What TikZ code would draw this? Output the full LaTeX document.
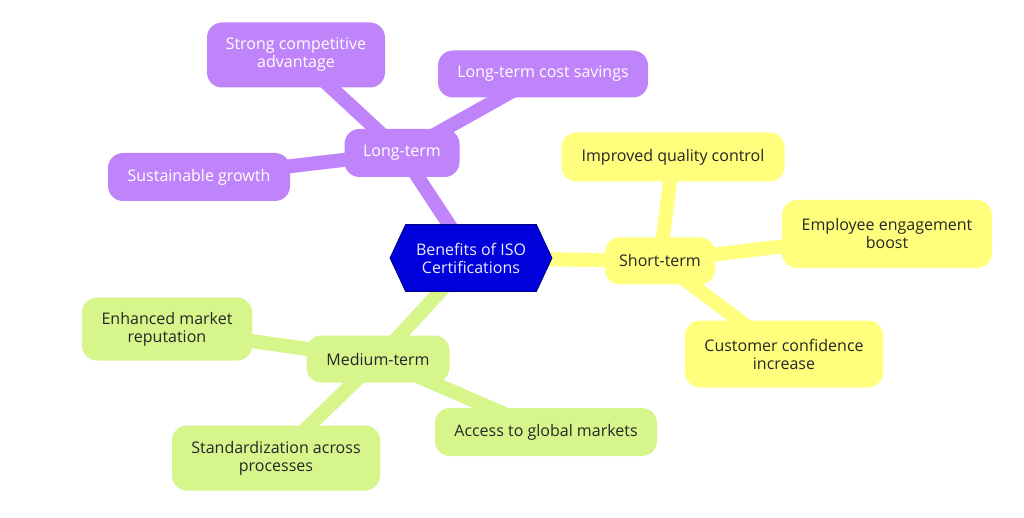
\documentclass[tikz,border=0pt]{standalone}
\usepackage{fontspec}
\setmainfont{Open Sans}
\usetikzlibrary{shapes.symbols,backgrounds}
\definecolor{lilac}{RGB}{192,132,250}
\definecolor{lemon}{RGB}{255,255,125}
\definecolor{lime}{RGB}{214,246,140}
\definecolor{royal}{RGB}{0,0,218}
\tikzset{
box/.style={rounded corners=15pt, inner sep=0pt, align=center, minimum height=48pt,
  font=\fontsize{16}{18}\selectfont},
longbox/.style={box, fill=lilac, text=white},
shortbox/.style={box, fill=lemon, text=black!85},
medbox/.style={box, fill=lime, text=black!85},
link/.style={line width=14pt}
}
\tikzset{every picture/.style={line width=0.75pt}}

\begin{document}
\begin{tikzpicture}[x=1pt,y=-1pt]
\useasboundingbox (0,0) rectangle (1024,518);

%Root: hexagon
\node (root) at (471,258) [signal, signal to=west and east, signal pointer angle=130,
  minimum width=162pt, minimum height=67pt, inner sep=0pt, fill=royal, draw=royal!60!black,
  text=blue!8, align=center, font=\fontsize{16}{18}\selectfont] {Benefits of ISO\\Certifications};

%Long-term branch
\node (long) at (402,153) [longbox, minimum width=115pt] {Long-term};
\node (compet) at (296,55) [longbox, minimum width=178pt, minimum height=65pt] {Strong competitive\\advantage};
\node (costs) at (543,74) [longbox, minimum width=210pt, minimum height=47pt] {Long-term cost savings};
\node (growth) at (199,177) [longbox, minimum width=182pt] {Sustainable growth};

%Short-term branch
\node (short) at (660,261) [shortbox, minimum width=110pt, minimum height=47pt] {Short-term};
\node (quality) at (673,157) [shortbox, minimum width=223pt, minimum height=49pt] {Improved quality control};
\node (staff) at (887,234) [shortbox, minimum width=210pt, minimum height=68pt] {Employee engagement\\boost};
\node (trust) at (784,354) [shortbox, minimum width=198pt, minimum height=67pt] {Customer confidence\\increase};

%Medium-term branch
\node (medium) at (378,359) [medbox, minimum width=143pt, minimum height=47pt] {Medium-term};
\node (reput) at (167,329) [medbox, minimum width=170pt, minimum height=63pt] {Enhanced market\\reputation};
\node (standard) at (276,458) [medbox, minimum width=208pt, minimum height=65pt] {Standardization across\\processes};
\node (global) at (546,432) [medbox, minimum width=222pt] {Access to global markets};

%Connectors
\begin{pgfonlayer}{background}
\fill[white] (0,0) rectangle (1024,518);
\draw[link, lilac] (root.center) -- (long.center);
\draw[link, lilac] (long.center) -- (compet.center);
\draw[link, lilac] (long.center) -- (costs.center);
\draw[link, lilac] (long.center) -- (growth.center);
\draw[link, lemon] (root.center) -- (short.center);
\draw[link, lemon] (short.center) -- (quality.center);
\draw[link, lemon] (short.center) -- (staff.center);
\draw[link, lemon] (short.center) -- (trust.center);
\draw[link, lime] (root.center) -- (medium.center);
\draw[link, lime] (medium.center) -- (reput.center);
\draw[link, lime] (medium.center) -- (standard.center);
\draw[link, lime] (medium.center) -- (global.center);
\end{pgfonlayer}

\end{tikzpicture}
\end{document}
